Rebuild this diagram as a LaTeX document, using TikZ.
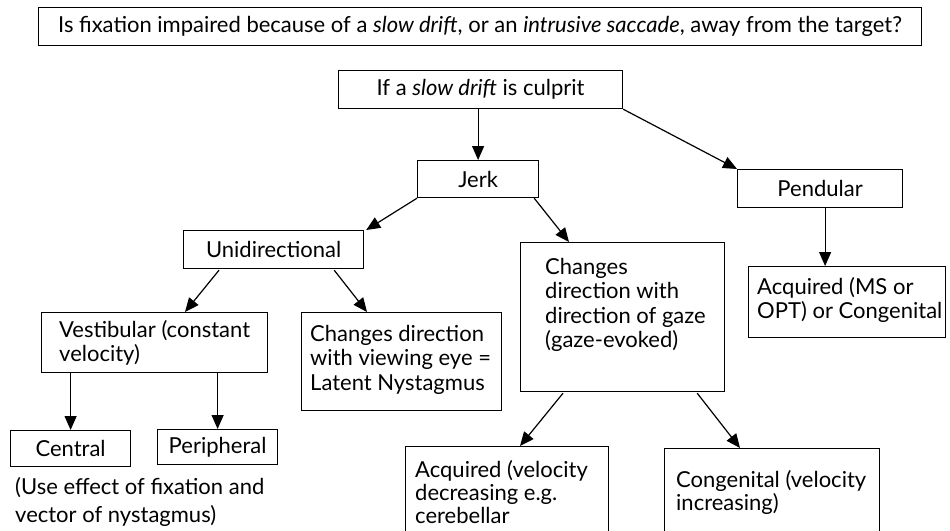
\documentclass[tikz,border=0pt]{standalone}
\usepackage{fontspec}
\setmainfont{Lato}
\usetikzlibrary{arrows.meta,calc}
\begin{document}
\begin{tikzpicture}[x=1pt,y=-1pt,
  box/.style={draw, line width=1.2pt, inner sep=0pt, anchor=north west, font=\fontsize{22}{24.5}\selectfont},
  txt/.style={inner sep=0pt, anchor=north west, align=left, font=\fontsize{22}{24.5}\selectfont},
  arr/.style={line width=1.2pt, -{Triangle[length=14pt,width=12pt]}}]
\useasboundingbox (0,0) rectangle (950,530);
\fill[white] (0,0) rectangle (950,530);
\clip (0,0) rectangle (950,530);

% boxes
\node[box, minimum width=883, minimum height=38] (top) at (38,7)
  {Is fixation impaired because of a \textit{slow drift}, or an \textit{intrusive saccade}, away from the target?};
\node[box, minimum width=284, minimum height=38] (culprit) at (338,70)
  {If a \textit{slow drift} is culprit};
\node[box, minimum width=121, minimum height=37] (jerk) at (417,160) {Jerk};
\node[box, minimum width=165, minimum height=38] (pend) at (737,169) {Pendular};
\node[box, minimum width=180, minimum height=38] (uni) at (183,230) {Unidirectional};
\node[box, minimum width=204, minimum height=149] (gaze) at (520,242) {};
\node[box, minimum width=197, minimum height=71] (acqms) at (748,266) {};
\node[box, minimum width=226, minimum height=60] (vest) at (41,312) {};
\node[box, minimum width=200, minimum height=98] (latent) at (301,312) {};
\node[box, minimum width=120, minimum height=36] (central) at (10,430) {Central};
\node[box, minimum width=120, minimum height=35] (periph) at (157,429) {Peripheral};
\node[box, minimum width=203, minimum height=100] (acqvel) at (405,446) {};
\node[box, minimum width=215, minimum height=100] (cong) at (664,448) {};

% multi-line texts
\node[txt] (gazet) at ($(gaze.north west)+(25,16)$)
  {Changes\\direction with\\direction of gaze\\(gaze-evoked)};
\node[txt] (acqmst) at ($(acqms.north west)+(9,11)$)
  {Acquired (MS or\\OPT) or Congenital};
\node[txt] (vestt) at ($(vest.north west)+(18,8)$)
  {Vestibular (constant\\velocity)};
\node[txt] (latentt) at ($(latent.north west)+(9,13)$)
  {Changes direction\\with viewing eye =\\Latent Nystagmus};
\node[txt, font=\fontsize{22}{28}\selectfont] (note) at (15,477)
  {(Use effect of fixation and\\vector of nystagmus)};
\node[txt, font=\fontsize{22}{23}\selectfont] (acqvelt) at ($(acqvel.north west)+(10,14)$)
  {Acquired (velocity\\decreasing e.g.\\cerebellar};
\node[txt, font=\fontsize{22}{23}\selectfont] (congt) at ($(cong.north west)+(12,22)$)
  {Congenital (velocity\\increasing)};

% connector end points
\coordinate (pendout) at ($(pend.south)+(5,0)$);
\coordinate (acqmsin) at (pendout |- acqms.north);

% connectors
\draw[arr] (jerk.north |- culprit.south) -- (jerk.north);
\draw[arr] (culprit.south east) -- (pend.north west);
\draw[arr] (jerk.south west) -- ([xshift=2pt]uni.north east);
\draw[arr] ([xshift=-5pt]jerk.south east) -- ($(gaze.north west)+(49,0)$);
\draw[arr] (pendout) -- (acqmsin);
\draw[arr] ($(uni.south west)+(36,1)$) -- ($(vest.north west)+(144,0)$);
\draw[arr] ($(uni.south east)+(-30,1)$) -- ($(latent.north west)+(66,0)$);
\draw[arr] (central.north |- vest.south) -- (central.north);
\draw[arr] (periph.north |- vest.south) -- (periph.north);
\draw[arr] ($(gaze.south west)+(43,1)$) -- ($(acqvel.north west)+(115,0)$);
\draw[arr] ($(gaze.south east)+(-28,1)$) -- ($(cong.north west)+(76,0)$);
\end{tikzpicture}
\end{document}
